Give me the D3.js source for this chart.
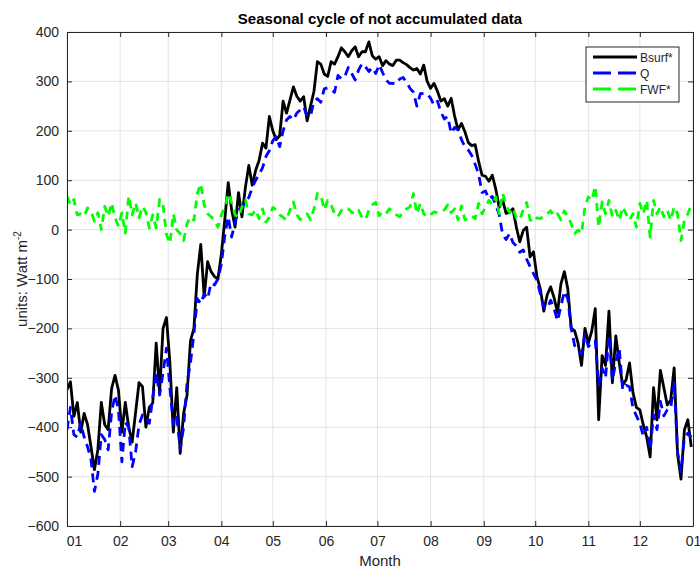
<!DOCTYPE html>
<html>
<head>
<meta charset="utf-8">
<script src="https://cdn.jsdelivr.net/npm/d3@7"></script>
<style>
  body { margin: 0; background: #fff; }
  text { font-family: "Liberation Sans", Arial, sans-serif; }
</style>
</head>
<body>
<svg id="chart"></svg>
<script>
// values, one every 2 days from 1 January
const startDay = "2001-01-01";
const dayStep = 2;

const bsurf = [
  -324, -308, -378, -350, -410, -372, -395, -440, -486, -445, -350, -395, -405, -322, -295, -325,
  -410, -350, -400, -430, -370, -310, -318, -400, -360, -351, -230, -330, -200, -178, -270, -410,
  -320, -453, -372, -335, -225, -200, -90, -30, -136, -65, -85, -95, -100, -50, 20, 95,
  40, 5, 75, 26, 85, 130, 90, 120, 140, 175, 165, 229, 200, 182, 190, 260,
  236, 262, 289, 270, 260, 269, 220, 250, 280, 340, 335, 315, 310, 340, 335, 350,
  368, 360, 350, 362, 370, 350, 360, 360, 380, 352, 345, 350, 332, 342, 335, 332,
  343, 343, 338, 334, 328, 323, 326, 315, 333, 300, 286, 296, 280, 260, 265, 250,
  266, 230, 202, 215, 198, 176, 170, 172, 138, 110, 108, 98, 110, 82, 45, 60,
  33, 35, 42, 5, -25, -2, 5, -55, -45, -95, -120, -165, -132, -116, -138, -168,
  -110, -85, -120, -200, -205, -230, -275, -200, -230, -205, -160, -385, -255, -275, -165, -310,
  -215, -270, -315, -304, -270, -330, -360, -365, -395, -420, -460, -320, -385, -285, -320, -355,
  -345, -280, -455, -505, -405, -385, -440
];

const q = [
  -405, -360, -415, -420, -392, -420, -440, -466, -530, -495, -415, -425, -446, -370, -335, -365,
  -470, -390, -400, -480, -450, -395, -375, -380, -392, -340, -290, -335, -290, -240, -320, -395,
  -380, -445, -400, -310, -270, -210, -140, -150, -130, -140, -108, -112, -100, -70, -12, 26,
  -15, 15, 40, 45, 55, 65, 85, 100, 112, 125, 148, 160, 180, 188, 168, 200,
  222, 229, 222, 236, 242, 249, 229, 230, 260, 265, 258, 285, 287, 283, 278, 312,
  305, 310, 328, 316, 303, 323, 336, 330, 320, 328, 316, 334, 318, 303, 296, 296,
  295, 305, 308, 298, 286, 278, 250, 275, 276, 275, 266, 252, 260, 238, 224, 229,
  195, 207, 202, 182, 168, 161, 150, 132, 112, 75, 78, 62, 67, 50, 30, -10,
  -20, -8, -26, -33, -46, -41, -60, -75, -89, -102, -130, -157, -160, -143, -160, -185,
  -155, -125, -140, -200, -235, -245, -252, -212, -237, -228, -225, -315, -280, -300, -215, -305,
  -268, -240, -324, -315, -318, -362, -377, -392, -418, -400, -446, -375, -405, -348, -377, -365,
  -362, -310, -450, -490, -420, -412, -420
];

const fwf = [
  68, 50, 61, 30, 32, 27, 44, 37, 17, 34, 0, 47, 27, 54, 24, 7,
  34, -7, 68, 30, 54, 24, 47, 35, 3, 30, 3, 61, 50, -10, -28, 32,
  -1, -8, -22, 12, 26, 19, 73, 93, 50, 32, 26, 19, 5, 30, 46, 73,
  55, 30, 25, 46, 60, 32, 30, 40, 22, 42, 15, 25, 45, 40, 30, 25,
  19, 40, 56, 30, 20, 26, 32, 20, 42, 73, 70, 40, 59, 50, 32, 26,
  39, 44, 42, 35, 32, 39, 25, 20, 39, 50, 55, 28, 36, 32, 42, 36,
  30, 26, 36, 42, 46, 73, 32, 53, 32, 26, 30, 36, 34, 36, 40, 50,
  34, 42, 20, 48, 20, 22, 28, 22, 53, 32, 46, 59, 50, 66, 32, 73,
  50, 35, 44, 24, 20, 40, 55, 20, 15, 24, 22, 28, 32, 38, 27, 32,
  20, 38, 26, 12, -8, -1, -8, 46, 66, 59, 88, 5, 56, 32, 59, 26,
  39, 19, 46, 32, 19, 32, 5, 53, 32, 59, -15, 59, 32, 46, 26, 39,
  19, 46, 32, -22, 19, 32, 50
];

const yTicks = [-600, -500, -400, -300, -200, -100, 0, 100, 200, 300, 400];
const seriesNames = ["Bsurf*", "Q", "FWF*"];
const seriesColors = ["#000000", "#0000ff", "#00ff00"];
const seriesDash = [null, "9,6", "8,6"];

const width = 700, height = 570;
const margin = { top: 32, right: 7, bottom: 44, left: 67 };
const innerW = width - margin.left - margin.right;
const innerH = height - margin.top - margin.bottom;
const axisColor = "#262626";

const svg = d3.select("#chart").attr("width", width).attr("height", height);
const g = svg.append("g").attr("transform", `translate(${margin.left},${margin.top})`);

const t0 = new Date(startDay + "T00:00:00Z");
const t1 = d3.utcYear.offset(t0, 1);
const dayOf = i => d3.utcDay.offset(t0, i * dayStep);

const x = d3.scaleUtc().domain([t0, t1]).range([0, innerW]);
const y = d3.scaleLinear().domain([-600, 400]).range([innerH, 0]);
const monthTicks = d3.utcMonth.range(t0, d3.utcDay.offset(t1, 1));

// grid
g.append("g").selectAll("line").data(monthTicks).join("line")
  .attr("x1", d => x(d)).attr("x2", d => x(d))
  .attr("y1", 0).attr("y2", innerH)
  .attr("stroke", "#e3e3e3").attr("stroke-width", 1);
g.append("g").selectAll("line").data(yTicks).join("line")
  .attr("x1", 0).attr("x2", innerW)
  .attr("y1", d => y(d)).attr("y2", d => y(d))
  .attr("stroke", "#e3e3e3").attr("stroke-width", 1);

// lines
g.append("clipPath").attr("id", "clip")
  .append("rect").attr("width", innerW).attr("height", innerH);

const line = d3.line().x((d, i) => x(dayOf(i))).y(d => y(d));
const plotArea = g.append("g").attr("clip-path", "url(#clip)");
[bsurf, q, fwf].forEach((vals, k) => {
  plotArea.append("path")
    .datum(vals)
    .attr("d", line)
    .attr("fill", "none")
    .attr("stroke", seriesColors[k])
    .attr("stroke-width", 2.8)
    .attr("stroke-linejoin", "round")
    .attr("stroke-dasharray", seriesDash[k]);
});

// axes (ticks inward, box on)
const fmt = d3.utcFormat("%m");
const xAxis = g.append("g").attr("transform", `translate(0,${innerH})`)
  .call(d3.axisBottom(x).tickValues(monthTicks).tickFormat(fmt).tickSizeInner(-5).tickSizeOuter(0).tickPadding(10));
const xTop = g.append("g")
  .call(d3.axisTop(x).tickValues(monthTicks).tickFormat("").tickSizeInner(-5).tickSizeOuter(0));
const yAxis = g.append("g")
  .call(d3.axisLeft(y).tickValues(yTicks).tickSizeInner(-5).tickSizeOuter(0).tickPadding(8));
const yRight = g.append("g").attr("transform", `translate(${innerW},0)`)
  .call(d3.axisRight(y).tickValues(yTicks).tickFormat("").tickSizeInner(-5).tickSizeOuter(0));

[xAxis, xTop, yAxis, yRight].forEach(a => {
  a.select(".domain").attr("stroke", axisColor);
  a.selectAll(".tick line").attr("stroke", axisColor);
  a.selectAll(".tick text").attr("fill", axisColor).attr("font-size", 14)
    .attr("font-family", "Liberation Sans, Arial, sans-serif");
});
xAxis.selectAll(".tick text").filter((d, i) => i === 0).attr("dx", 7);

// title and labels
svg.append("text")
  .attr("x", margin.left + innerW / 2).attr("y", 24)
  .attr("text-anchor", "middle").attr("font-size", 15).attr("font-weight", "bold")
  .attr("fill", "#000").text("Seasonal cycle of not accumulated data");

svg.append("text")
  .attr("x", margin.left + innerW / 2).attr("y", 566)
  .attr("text-anchor", "middle").attr("font-size", 15).attr("fill", axisColor)
  .text("Month");

const yl = svg.append("text")
  .attr("transform", `translate(27,${margin.top + innerH / 2}) rotate(-90)`)
  .attr("text-anchor", "middle").attr("font-size", 15).attr("fill", axisColor);
yl.append("tspan").text("units: Watt m");
yl.append("tspan").attr("font-size", 10).attr("dy", -6).text("-2");

// legend
const lg = svg.append("g").attr("transform", "translate(586,47)");
lg.append("rect").attr("width", 93).attr("height", 55)
  .attr("fill", "#fff").attr("stroke", axisColor).attr("stroke-width", 1);
seriesNames.forEach((name, k) => {
  const yy = 10 + k * 16;
  lg.append("line").attr("x1", 7).attr("x2", 51).attr("y1", yy).attr("y2", yy)
    .attr("stroke", seriesColors[k]).attr("stroke-width", 2.8)
    .attr("stroke-dasharray", seriesDash[k] ? "18,7" : null);
  lg.append("text").attr("x", 54).attr("y", yy + 4.5)
    .attr("font-size", 12).attr("fill", axisColor).text(name);
});
</script>
</body>
</html>
